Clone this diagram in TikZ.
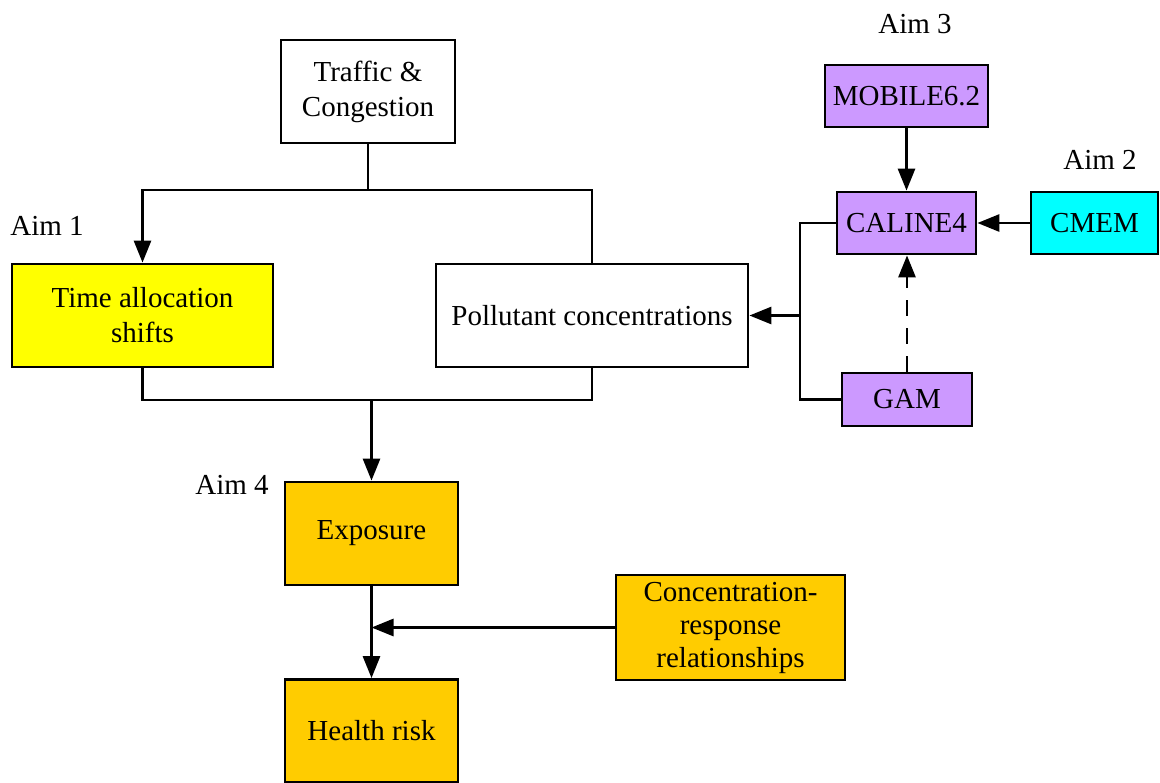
\documentclass[tikz,border=0pt]{standalone}
\usepackage{fontspec}
\setmainfont{Liberation Serif}
\usepackage{tikz}
\usetikzlibrary{arrows.meta,positioning,calc}
\definecolor{aimyellow}{HTML}{FFFF00}
\definecolor{aimorange}{HTML}{FFCC00}
\definecolor{aimpurple}{HTML}{CC99FF}
\definecolor{aimcyan}{HTML}{00FFFF}
\begin{document}
\begin{tikzpicture}[x=0.5pt, y=-0.5pt,
      box/.style={draw, line width=1.4pt, align=center, font=\fontsize{14.5}{17.5}\selectfont,
        inner sep=1pt},
      bigbox/.style={box, minimum height=51.5pt},
      smallbox/.style={box, fill=aimpurple, minimum height=31pt},
      aim/.style={font=\fontsize{14.5}{17}\selectfont},
      line/.style={line width=1.4pt},
      arr/.style={line, -{Triangle[length=11pt, width=8.5pt]}}]
    \useasboundingbox (0,0) rectangle (1160,782);
    % upper chain
    \node[bigbox, minimum width=87pt] (traffic) at (368,91.5) {Traffic \&\\Congestion};
    \node[bigbox, fill=aimyellow, minimum width=130.5pt] (time) at (142.5,315.5) {Time allocation\\shifts};
    \node[bigbox, minimum width=156pt] (poll) at (592,315.5) {Pollutant concentrations};
    \node[bigbox, fill=aimorange, minimum width=86.5pt] (expo) at (371.5,533.5) {Exposure};
    \node[bigbox, fill=aimorange, minimum width=86.5pt] (health) at (371.5,731) {Health risk};
    \node[bigbox, fill=aimorange, minimum width=114.5pt, minimum height=52.5pt, inner sep=0pt,
      font=\fontsize{14.5}{16.5}\selectfont] (conc) at (730.5,627.5)
      {Concentration-\\response\\relationships};
    % models
    \node[smallbox, minimum width=81.5pt] (mobile) at (906.5,96) {MOBILE6.2};
    \node[smallbox, minimum width=69.5pt] (caline) at (906.5,223) {CALINE4};
    \node[smallbox, fill=aimcyan, minimum width=63.5pt] (cmem) at (1094.5,223) {CMEM};
    \node[smallbox, minimum width=65pt, minimum height=26.5pt] (gam) at (907,399.5) {GAM};
    % aims
    \node[aim] (aim1) at (47,226) {Aim 1};
    \node[aim] (aim2) at (1100,160) {Aim 2};
    \node[aim] (aim3) at (915,24) {Aim 3};
    \node[aim] (aim4) at (232,485) {Aim 4};
    % buses
    \coordinate (topbus) at (0,190);
    \coordinate (botbus) at (0,400);
    \coordinate (rbus) at (800,0);
    \draw[line] (traffic.south) -- (traffic.south |- topbus);
    \draw[arr] (poll.north) |- (topbus -| time.north) -- (time.north);
    \draw[line] (time.south) |- (botbus -| poll.south) -- (poll.south);
    \draw[arr] (botbus -| expo.north) -- (expo.north);
    \draw[arr] (expo) -- (health);
    \draw[arr] (conc.west) -- (conc.west -| expo.south);
    \draw[line] (caline.west) -| (rbus |- gam.west) -- (gam.west);
    \draw[arr] (rbus |- poll.east) -- (poll.east);
    \draw[arr] (mobile) -- (caline);
    \draw[arr] (cmem) -- (caline);
    \draw[arr, dash pattern=on 8pt off 6pt] (gam.north) -- (gam.north |- caline.south);
  \end{tikzpicture}
\end{document}
